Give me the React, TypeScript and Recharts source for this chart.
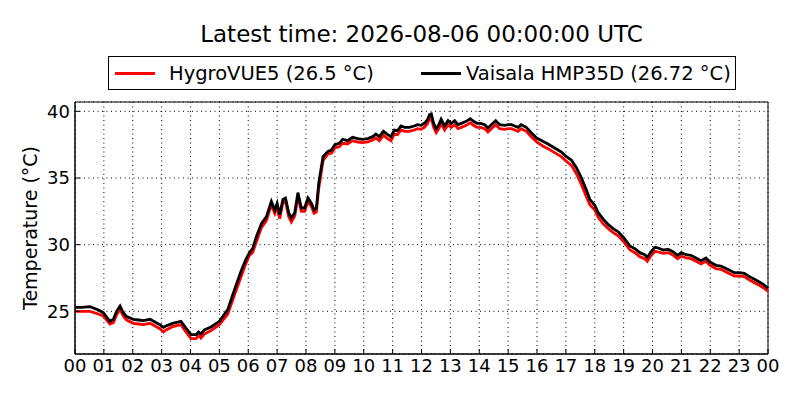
import React from "react";
import {
  LineChart,
  Line,
  XAxis,
  YAxis,
  CartesianGrid,
  ReferenceArea,
  Legend,
} from "recharts";

// hours since 00 UTC
const HOURS = [
  0.0, 0.23, 0.52, 0.81, 0.98, 1.21, 1.33, 1.44, 1.56, 1.67, 1.79, 2.02, 2.2, 2.37, 2.6, 2.77, 2.94,
  3.06, 3.15, 3.38, 3.67, 3.84, 4.02, 4.19, 4.28, 4.36, 4.48, 4.71, 5.0, 5.29, 5.52, 5.75, 5.92,
  6.04, 6.15, 6.28, 6.46, 6.63, 6.8, 6.92, 7.0, 7.09, 7.2, 7.29, 7.4, 7.49, 7.61, 7.72, 7.84, 7.95,
  8.07, 8.19, 8.28, 8.36, 8.44, 8.59, 8.76, 8.88, 9.0, 9.15, 9.27, 9.44, 9.61, 9.79, 9.96,
  10.14, 10.31, 10.42, 10.54, 10.68, 10.83, 10.94, 11.06, 11.17, 11.29, 11.41, 11.58, 11.75, 11.86, 11.98,
  12.1, 12.2, 12.28, 12.34, 12.42, 12.51, 12.6, 12.68, 12.8, 12.92, 13.03, 13.15, 13.26, 13.38, 13.55,
  13.69, 13.8, 13.92, 14.04, 14.19, 14.3, 14.42, 14.57, 14.71, 14.88, 15.0, 15.11, 15.23, 15.34, 15.45,
  15.63, 15.8, 15.99, 16.2, 16.38, 16.61, 16.84, 17.02, 17.19, 17.37, 17.54, 17.71, 17.83, 18.0, 18.12,
  18.3, 18.47, 18.64, 18.82, 19.01, 19.22, 19.39, 19.56, 19.73, 19.82, 19.94, 20.08, 20.2, 20.37, 20.55,
  20.72, 20.87, 21.0, 21.16, 21.33, 21.51, 21.68, 21.85, 21.99, 22.2, 22.37, 22.6, 22.84, 23.01, 23.18,
  23.36, 23.53, 23.7, 23.85, 24.0,
];

// HygroVUE5 (red)
const HYGRO = [
  25.0, 25.0, 25.0, 24.8, 24.65, 24.05, 24.15, 24.75, 25.15, 24.65, 24.35, 24.1, 24.05, 24.0, 24.1, 23.9, 23.7,
  23.45, 23.6, 23.85, 24.0, 23.45, 22.95, 22.95, 23.2, 23.0, 23.3, 23.55, 24.0, 24.8, 26.2, 27.6, 28.6,
  29.2, 29.4, 30.2, 31.3, 31.8, 33.0, 32.35, 32.8, 31.95, 33.15, 33.25, 32.1, 31.7, 32.15, 33.6, 32.5, 32.5,
  33.25, 32.85, 32.35, 32.45, 34.2, 36.3, 36.8, 36.85, 37.25, 37.35, 37.6, 37.55, 37.8, 37.7, 37.65,
  37.7, 37.85, 38.0, 37.8, 38.2, 37.95, 37.8, 38.3, 38.25, 38.6, 38.5, 38.5, 38.6, 38.7, 38.65,
  38.8, 39.05, 39.45, 39.5, 38.8, 38.4, 38.7, 39.1, 38.6, 39.0, 38.8, 39.0, 38.7, 38.8, 38.95,
  39.15, 38.95, 38.8, 38.8, 38.7, 38.45, 38.7, 39.0, 38.7, 38.65, 38.7, 38.7, 38.6, 38.5, 38.7,
  38.5, 38.1, 37.7, 37.4, 37.2, 36.9, 36.6, 36.25, 35.95, 35.3, 34.5, 33.6, 33.0, 32.6, 32.05,
  31.55, 31.2, 30.9, 30.65, 30.2, 29.6, 29.4, 29.1, 28.95, 28.75, 29.15, 29.5, 29.45, 29.35, 29.4,
  29.2, 28.95, 29.15, 29.0, 28.95, 28.75, 28.55, 28.75, 28.45, 28.2, 28.15, 27.9, 27.65, 27.65, 27.6,
  27.35, 27.15, 26.95, 26.75, 26.5,
];

// Vaisala HMP35D (black)
const VAISALA = [
  25.3, 25.3, 25.35, 25.1, 24.9, 24.25, 24.4, 25.0, 25.4, 24.9, 24.6, 24.4, 24.35, 24.3, 24.4, 24.2, 24.0,
  23.8, 23.9, 24.1, 24.25, 23.75, 23.25, 23.25, 23.45, 23.3, 23.6, 23.83, 24.25, 25.13, 26.6, 28.0, 28.9,
  29.4, 29.7, 30.6, 31.6, 32.1, 33.25, 32.6, 33.1, 32.25, 33.4, 33.5, 32.4, 32.0, 32.4, 33.9, 32.75, 32.75,
  33.5, 33.1, 32.6, 32.75, 34.6, 36.6, 37.0, 37.1, 37.5, 37.6, 37.9, 37.8, 38.05, 37.95, 37.9,
  37.95, 38.1, 38.3, 38.1, 38.5, 38.25, 38.1, 38.6, 38.55, 38.9, 38.8, 38.8, 38.9, 39.0, 38.95,
  39.1, 39.35, 39.75, 39.8, 39.1, 38.7, 39.0, 39.4, 38.9, 39.3, 39.1, 39.3, 39.0, 39.1, 39.25,
  39.45, 39.25, 39.1, 39.1, 39.0, 38.75, 39.0, 39.3, 39.0, 38.95, 39.0, 39.0, 38.9, 38.8, 39.0,
  38.8, 38.4, 38.0, 37.75, 37.55, 37.25, 36.95, 36.6, 36.35, 35.75, 35.0, 34.1, 33.4, 32.95, 32.4,
  31.9, 31.5, 31.2, 30.95, 30.5, 29.9, 29.7, 29.4, 29.25, 29.05, 29.45, 29.8, 29.75, 29.6, 29.65,
  29.45, 29.2, 29.4, 29.25, 29.2, 29.0, 28.8, 29.0, 28.7, 28.45, 28.4, 28.15, 27.9, 27.9, 27.85,
  27.6, 27.4, 27.2, 27.0, 26.72,
];

const HOUR_TICKS = [0, 1, 2, 3, 4, 5, 6, 7, 8, 9, 10, 11, 12, 13, 14, 15, 16, 17, 18, 19, 20, 21, 22, 23, 24];
const TEMP_TICKS = [25, 30, 35, 40];
const SERIES_NAMES = ["HygroVUE5 (26.5 °C)", "Vaisala HMP35D (26.72 °C)"];
const TITLE = "Latest time: 2026-08-06 00:00:00 UTC";

const data = HOURS.map((h, i) => ({ h, hygro: HYGRO[i], vaisala: VAISALA[i] }));

const FONT = "'DejaVu Sans', sans-serif";
const Y_DOMAIN: [number, number] = [21.8, 40.7];

function YLabel({ viewBox }: any) {
  const cx = viewBox.x + 30;
  const cy = viewBox.y + viewBox.height / 2;
  return (
    <text
      x={cx}
      y={cy}
      transform={`rotate(-90 ${cx} ${cy})`}
      textAnchor="middle"
      dominantBaseline="central"
      fontSize={19}
      fontFamily={FONT}
      fill="#000"
    >
      Temperature (°C)
    </text>
  );
}

function LegendBox() {
  const sample = (left: number, color: string) => (
    <div
      style={{
        position: "absolute",
        left,
        top: 15,
        width: 40,
        height: 3,
        background: color,
      }}
    />
  );
  const label = (left: number, text: string) => (
    <div
      style={{
        position: "absolute",
        left,
        top: 0,
        height: 32,
        display: "flex",
        alignItems: "center",
        fontSize: 19.5,
        fontFamily: FONT,
        whiteSpace: "nowrap",
      }}
    >
      {text}
    </div>
  );
  return (
    <div
      style={{
        position: "relative",
        width: 628,
        height: 34,
        boxSizing: "border-box",
        border: "1px solid #000",
        background: "#fff",
      }}
    >
      {sample(6, "#ff0000")}
      {label(60, SERIES_NAMES[0])}
      {sample(312, "#000000")}
      {label(357, SERIES_NAMES[1])}
    </div>
  );
}

export default function App() {
  return (
    <div
      style={{
        position: "absolute",
        left: 0,
        top: 0,
        width: 800,
        height: 400,
        background: "#fff",
      }}
    >
      <div
        style={{
          position: "absolute",
          left: 75,
          width: 693,
          top: 23,
          textAlign: "center",
          fontFamily: FONT,
          fontSize: 23,
          lineHeight: "23px",
          whiteSpace: "nowrap",
        }}
      >
        {TITLE}
      </div>
      <LineChart
        width={800}
        height={400}
        data={data}
        margin={{ top: 102, right: 32, bottom: 0, left: 0 }}
      >
        <CartesianGrid stroke="#000" strokeDasharray="1 3.5" strokeWidth={1} />
        <XAxis
          dataKey="h"
          type="number"
          domain={[0, 24]}
          ticks={HOUR_TICKS}
          interval={0}
          tickFormatter={(h: number) => String(h % 24).padStart(2, "0")}
          height={46}
          tick={{ fill: "#000", fontSize: 18, fontFamily: FONT }}
          axisLine={{ stroke: "#000" }}
          tickLine={{ stroke: "#000" }}
          tickSize={-5}
          tickMargin={10}
        />
        {/* mirrored tick marks on top / right, as in the source plot */}
        <XAxis
          xAxisId="top"
          orientation="top"
          dataKey="h"
          type="number"
          domain={[0, 24]}
          ticks={HOUR_TICKS}
          interval={0}
          tickFormatter={() => ""}
          height={0}
          axisLine={false}
          tickLine={{ stroke: "#000" }}
          tickSize={-5}
        />
        <YAxis
          type="number"
          domain={Y_DOMAIN}
          allowDataOverflow
          ticks={TEMP_TICKS}
          interval={0}
          width={75}
          tick={{ fill: "#000", fontSize: 18, fontFamily: FONT }}
          axisLine={{ stroke: "#000" }}
          tickLine={{ stroke: "#000" }}
          tickSize={-5}
          tickMargin={10}
          label={<YLabel />}
        />
        <YAxis
          yAxisId="right"
          orientation="right"
          type="number"
          domain={Y_DOMAIN}
          allowDataOverflow
          ticks={TEMP_TICKS}
          interval={0}
          width={0}
          tickFormatter={() => ""}
          axisLine={false}
          tickLine={{ stroke: "#000" }}
          tickSize={-5}
        />
        <ReferenceArea
          x1={0}
          x2={24}
          y1={Y_DOMAIN[0]}
          y2={Y_DOMAIN[1]}
          fill="none"
          stroke="#000"
          strokeWidth={1}
          ifOverflow="visible"
        />
        <Line
          type="linear"
          dataKey="hygro"
          name={SERIES_NAMES[0]}
          stroke="#ff0000"
          strokeWidth={2.8}
          dot={false}
          isAnimationActive={false}
        />
        <Line
          type="linear"
          dataKey="vaisala"
          name={SERIES_NAMES[1]}
          stroke="#000000"
          strokeWidth={2.8}
          dot={false}
          isAnimationActive={false}
        />
        <Legend
          verticalAlign="middle"
          layout="horizontal"
          content={() => <LegendBox />}
          wrapperStyle={{ top: 56, left: 108, width: 628 }}
        />
      </LineChart>
    </div>
  );
}
